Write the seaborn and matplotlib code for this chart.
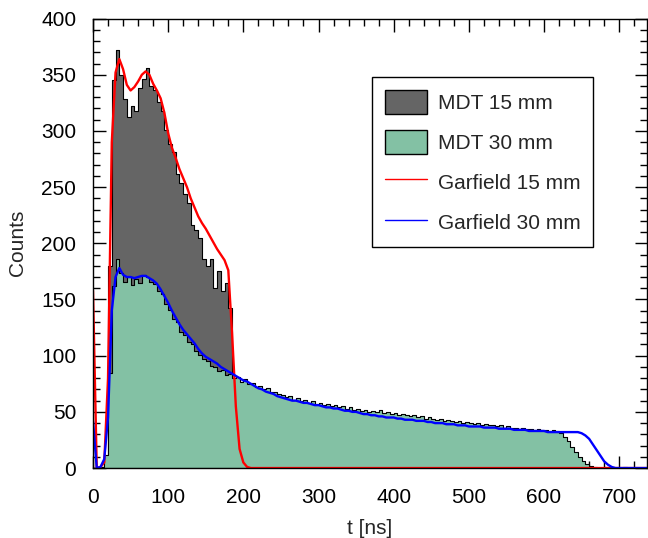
import matplotlib
matplotlib.use("Agg")
import matplotlib.pyplot as plt
import numpy as np
import pandas as pd
import seaborn as sns
from matplotlib.lines import Line2D
from matplotlib.patches import Patch
from matplotlib.ticker import MultipleLocator

# drift time spectra, 5 ns bins starting at t = 0
bin_width = 5

mdt_15mm = [
    0, 0, 1, 10, 180, 345, 372, 350, 328, 312,
    322, 318, 338, 346, 356, 340, 336, 326, 318, 301,
    288, 281, 262, 254, 244, 236, 216, 212, 205, 186,
    180, 186, 160, 175, 158, 165, 142, 10, 2, 0,
]

mdt_30mm = [
    0, 0, 1, 12, 85, 162, 186, 174, 166, 170,
    163, 168, 165, 172, 170, 166, 164, 158, 155, 146,
    141, 133, 130, 121, 118, 112, 110, 104, 101, 97,
    95, 91, 90, 86, 87, 83, 84, 80, 81, 77,
    79, 75, 76, 72, 73, 70, 71, 68, 68, 66,
    65, 63, 64, 61, 62, 60, 61, 58, 60, 57,
    58, 56, 57, 55, 56, 54, 55, 53, 54, 52,
    53, 51, 52, 50, 51, 50, 52, 49, 50, 48,
    49, 47, 48, 47, 46, 47, 45, 46, 44, 45,
    44, 43, 44, 42, 43, 42, 41, 42, 40, 41,
    40, 39, 40, 38, 39, 38, 38, 37, 38, 36,
    37, 36, 36, 35, 36, 35, 35, 34, 35, 34,
    34, 33, 34, 33, 31, 28, 24, 19, 14, 10,
    6, 4, 2, 1, 0, 0, 1, 0, 0, 0,
    0, 1, 0, 0, 0, 0, 0, 0,
]

# Garfield simulation, sampled every 5 ns from t = 0
garfield_15mm = [
    158, 0, 1, 5, 80, 290, 352, 364, 355, 341,
    336, 339, 344, 350, 353, 350, 342, 336, 329, 316,
    298, 285, 276, 266, 258, 250, 240, 232, 224, 218,
    213, 207, 201, 195, 190, 185, 176, 120, 55, 17,
    5, 1, 0, 0, 0, 0, 0, 0, 0, 0,
    0, 0, 0, 0, 0, 0, 0, 0, 0, 0,
    0, 0, 0, 0, 0, 0, 0, 0, 0, 0,
    0, 0, 0, 0, 0, 0, 0, 0, 0, 0,
    0, 0, 0, 0, 0, 0, 0, 0, 0, 0,
    0, 0, 0, 0, 0, 0, 0, 0, 0, 0,
    0, 0, 0, 0, 0, 0, 0, 0, 0, 0,
    0, 0, 0, 0, 0, 0, 0, 0, 0, 0,
    0, 0, 0, 0, 0, 0, 0, 0, 0, 0,
    0, 0, 0, 0, 0, 0, 0, 0, 0, 0,
    0, 0, 0, 0, 0, 0, 0, 0, 0,
]

garfield_30mm = [
    42, 0, 1, 8, 45, 140, 170, 178, 172, 170,
    170, 169, 170, 171, 171, 169, 167, 164, 159, 153,
    147, 140, 134, 128, 123, 119, 115, 111, 106, 102,
    99, 97, 95, 93, 90, 88, 86, 84, 82, 80,
    78, 77, 75, 73, 71, 70, 68, 67, 66, 64,
    63, 62, 61, 60, 60, 59, 58, 58, 57, 56,
    56, 55, 54, 54, 53, 53, 52, 51, 51, 50,
    50, 49, 48, 48, 47, 47, 46, 46, 45, 45,
    45, 44, 44, 43, 43, 43, 42, 42, 42, 41,
    41, 40, 40, 40, 39, 39, 39, 38, 38, 38,
    37, 37, 37, 37, 36, 36, 36, 36, 35, 35,
    35, 35, 34, 34, 34, 34, 33, 33, 33, 33,
    33, 32, 32, 32, 32, 32, 32, 32, 32, 32,
    31, 29, 26, 21, 16, 11, 6, 3, 1, 0,
    0, 0, 0, 0, 0, 0, 0, 0, 0,
]

labels = ["MDT 15 mm", "MDT 30 mm", "Garfield 15 mm", "Garfield 30 mm"]
colors = ["#656565", "#83c1a4", "#ff0000", "#0000ff"]

sns.set_style("ticks")
plt.rcParams["font.family"] = ["Liberation Sans", "DejaVu Sans"]

fig = plt.figure(figsize=(6.48, 5.38), dpi=100)
ax = fig.add_axes([0.1435, 0.130, 0.855, 0.8355])

# measured spectra as filled step histograms
for counts, color in zip([mdt_15mm, mdt_30mm], colors[:2]):
    n = len(counts)
    hist_df = pd.DataFrame({"t": (np.arange(n) + 0.5) * bin_width, "counts": counts})
    sns.histplot(data=hist_df, x="t", weights="counts", binwidth=bin_width,
                 binrange=(0, n * bin_width), element="step", fill=True,
                 color=color, alpha=1, edgecolor="black", linewidth=0.8, ax=ax)

# simulation curves
for values, color in zip([garfield_15mm, garfield_30mm], colors[2:]):
    line_df = pd.DataFrame({"t": np.arange(len(values)) * bin_width, "counts": values})
    sns.lineplot(data=line_df, x="t", y="counts", color=color, linewidth=1.7, ax=ax)

ax.set_xlim(0, 737)
ax.set_ylim(0, 400)
ax.xaxis.set_major_locator(MultipleLocator(100))
ax.xaxis.set_minor_locator(MultipleLocator(20))
ax.yaxis.set_major_locator(MultipleLocator(50))
ax.yaxis.set_minor_locator(MultipleLocator(10))
ax.tick_params(which="both", direction="in", top=True, right=True, width=1, colors="black")
ax.tick_params(which="major", length=9, labelsize=15)
ax.tick_params(which="minor", length=5)
ax.tick_params(axis="x", which="major", pad=14)
ax.tick_params(axis="y", which="major", pad=12)
for spine in ax.spines.values():
    spine.set_visible(True)
    spine.set_linewidth(1.0)
    spine.set_color("black")

ax.set_xlabel("t [ns]", fontsize=15, labelpad=9)
ax.set_ylabel("Counts", fontsize=15, labelpad=10)

handles = [
    Patch(facecolor=colors[0], edgecolor="black", linewidth=1),
    Patch(facecolor=colors[1], edgecolor="black", linewidth=1),
    Line2D([], [], color=colors[2], linewidth=1),
    Line2D([], [], color=colors[3], linewidth=1),
]
leg = ax.legend(handles, labels, loc="upper left", bbox_to_anchor=(0.5036, 0.8699),
                borderaxespad=0, fancybox=False, framealpha=1, edgecolor="black",
                fontsize=15, handlelength=2.05, handleheight=1.45, handletextpad=0.5,
                labelspacing=0.74, borderpad=0.6)
leg.get_frame().set_linewidth(1.0)

fig.savefig("out.png", dpi=100)
